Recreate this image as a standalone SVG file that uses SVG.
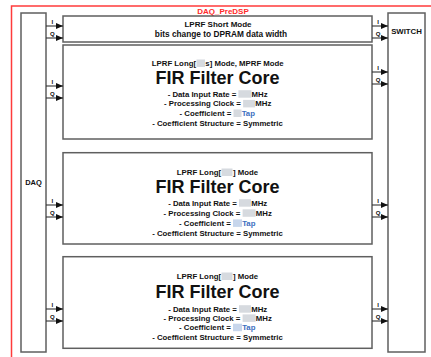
<svg xmlns="http://www.w3.org/2000/svg" width="431" height="357" viewBox="0 0 431 357">
<defs>
<marker id="ah" markerWidth="7" markerHeight="6" refX="7" refY="3" orient="auto" markerUnits="userSpaceOnUse">
<path d="M0,0 L7,3 L0,6 Z" fill="#111"/>
</marker>
<style>
text{font-family:"Liberation Sans",Arial,sans-serif;font-weight:bold;fill:#111}
.box{fill:#fff;stroke:#5f5f5f;stroke-width:1.5}
.frame{fill:none;stroke:#ff3b3b;stroke-width:1.5}
.s{font-size:7.8px}
.big{font-size:18px}
.lbl{font-size:6px;text-anchor:middle}
.m{text-anchor:middle}
.e{text-anchor:end}
.blank{fill:#d6dadf}
.bblank{fill:#c7d6ec}
.tap{fill:#3d6fc0}
.conn line{stroke:#333;stroke-width:1.1;marker-end:url(#ah)}
</style>
</defs>
<rect width="431" height="357" fill="#fff"/>
<g id="frame">
<path class="frame" d="M11.5,357 L11.5,6 L431,6"/>
<text x="223" y="14" class="m" style="font-size:8px;fill:#ff2a2a">DAQ_PreDSP</text>
</g>
<g id="daq">
<rect class="box" x="21" y="13" width="25" height="339"/>
<text x="33.5" y="185" class="m" style="font-size:7.5px">DAQ</text>
</g>
<g id="switch">
<rect class="box" x="388" y="13" width="37" height="339"/>
<text x="406.5" y="33.5" class="m" style="font-size:7.8px">SWITCH</text>
</g>
<g id="short-mode">
<rect class="box" x="63" y="16" width="309" height="26"/>
<text x="218" y="27" class="m" style="font-size:8px">LPRF Short Mode</text>
<text x="221" y="36.5" class="m" style="font-size:8.3px">bits change to DPRAM data width</text>
</g>
<g id="fir1">
<rect class="box" x="63" y="45" width="309" height="94"/>
<text x="196" y="66" class="s e">LPRF Long[</text>
<rect class="blank" x="196.5" y="59.5" width="8.5" height="7.5"/>
<text x="205.3" y="66" class="s">s] Mode, MPRF Mode</text>
<text x="217.5" y="84" class="big m">FIR Filter Core</text>
<text x="236.3" y="96.7" class="s e">- Data Input Rate =</text>
<rect class="blank" x="238.4" y="90.2" width="13" height="7.5"/>
<text x="251.6" y="96.7" class="s">MHz</text>
<text x="240.9" y="106.4" class="s e">- Processing Clock =</text>
<rect class="blank" x="243.1" y="99.9" width="12" height="7.5"/>
<text x="255.3" y="106.4" class="s">MHz</text>
<text x="231.3" y="116" class="s e">- Coefficient =</text>
<rect class="blank" x="233.5" y="109.5" width="8" height="7.5"/>
<text x="241.7" y="116" class="s tap">Tap</text>
<text x="217.5" y="125.7" class="s m">- Coefficient Structure = Symmetric</text>
</g>
<g id="fir2">
<rect class="box" x="63" y="152.7" width="309" height="91.3"/>
<text x="221" y="175" class="s e">LPRF Long[</text>
<rect class="blank" x="221.5" y="168.5" width="11" height="7.5"/>
<text x="233" y="175" class="s">] Mode</text>
<text x="217.5" y="193" class="big m">FIR Filter Core</text>
<text x="236.8" y="205.7" class="s e">- Data Input Rate =</text>
<rect class="blank" x="239" y="199.2" width="12" height="7.5"/>
<text x="251.2" y="205.7" class="s">MHz</text>
<text x="240.4" y="215.8" class="s e">- Processing Clock =</text>
<rect class="blank" x="242.6" y="209.3" width="13" height="7.5"/>
<text x="255.8" y="215.8" class="s">MHz</text>
<text x="230.8" y="225.9" class="s e">- Coefficient =</text>
<rect class="bblank" x="233" y="219.4" width="9" height="7.5"/>
<text x="242.2" y="225.9" class="s tap">Tap</text>
<text x="217.5" y="235.7" class="s m">- Coefficient Structure = Symmetric</text>
</g>
<g id="fir3">
<rect class="box" x="63" y="256.7" width="309" height="91.6"/>
<text x="221" y="279" class="s e">LPRF Long[</text>
<rect class="blank" x="221.5" y="272.5" width="11" height="7.5"/>
<text x="233" y="279" class="s">] Mode</text>
<text x="217.5" y="297.5" class="big m">FIR Filter Core</text>
<text x="236.8" y="311.7" class="s e">- Data Input Rate =</text>
<rect class="blank" x="239" y="305.2" width="12" height="7.5"/>
<text x="251.2" y="311.7" class="s">MHz</text>
<text x="240.4" y="320.9" class="s e">- Processing Clock =</text>
<rect class="blank" x="242.6" y="314.4" width="13" height="7.5"/>
<text x="255.8" y="320.9" class="s">MHz</text>
<text x="230.8" y="330.2" class="s e">- Coefficient =</text>
<rect class="bblank" x="233" y="323.7" width="9" height="7.5"/>
<text x="242.2" y="330.2" class="s tap">Tap</text>
<text x="217.5" y="339.5" class="s m">- Coefficient Structure = Symmetric</text>
</g>
<g id="connectors" class="conn">
<line x1="46" y1="26" x2="63" y2="26"/>
<line x1="46" y1="38" x2="63" y2="38"/>
<line x1="46" y1="86" x2="63" y2="86"/>
<line x1="46" y1="98" x2="63" y2="98"/>
<line x1="46" y1="205" x2="63" y2="205"/>
<line x1="46" y1="217" x2="63" y2="217"/>
<line x1="46" y1="309" x2="63" y2="309"/>
<line x1="46" y1="321" x2="63" y2="321"/>
<line x1="372" y1="26" x2="388" y2="26"/>
<line x1="372" y1="38" x2="388" y2="38"/>
<line x1="372" y1="72" x2="388" y2="72"/>
<line x1="372" y1="84" x2="388" y2="84"/>
<line x1="372" y1="205" x2="388" y2="205"/>
<line x1="372" y1="217" x2="388" y2="217"/>
<line x1="372" y1="309" x2="388" y2="309"/>
<line x1="372" y1="321" x2="388" y2="321"/>
<text x="52.4" y="24" class="lbl">I</text>
<text x="52.4" y="36" class="lbl">Q</text>
<text x="52.4" y="84" class="lbl">I</text>
<text x="52.4" y="96" class="lbl">Q</text>
<text x="52.4" y="203" class="lbl">I</text>
<text x="52.4" y="215" class="lbl">Q</text>
<text x="52.4" y="307" class="lbl">I</text>
<text x="52.4" y="319" class="lbl">Q</text>
<text x="378" y="24" class="lbl">I</text>
<text x="378" y="36" class="lbl">Q</text>
<text x="378" y="70" class="lbl">I</text>
<text x="378" y="82" class="lbl">Q</text>
<text x="378" y="203" class="lbl">I</text>
<text x="378" y="215" class="lbl">Q</text>
<text x="378" y="307" class="lbl">I</text>
<text x="378" y="319" class="lbl">Q</text>
</g>
</svg>
